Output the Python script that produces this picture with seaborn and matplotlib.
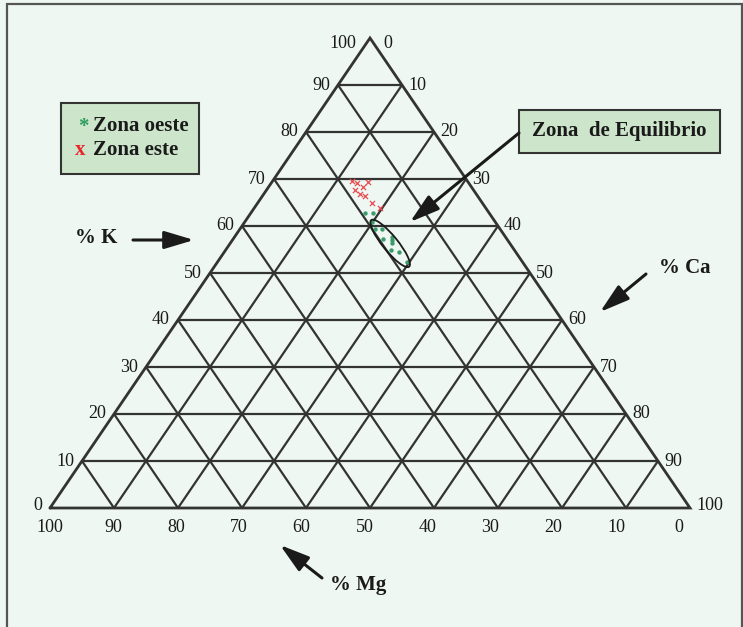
import numpy as np
import pandas as pd
import matplotlib
matplotlib.use("Agg")
import matplotlib.pyplot as plt
import seaborn as sns
from matplotlib.patches import Ellipse, FancyArrowPatch, Rectangle

# ---------------- data (ternary percentages) ----------------
ticks = [0, 10, 20, 30, 40, 50, 60, 70, 80, 90, 100]
k_tick_labels = [str(t) for t in ticks]          # left side (% K)
ca_tick_labels = [str(t) for t in ticks]         # right side (% Ca)
mg_tick_labels = [str(t) for t in ticks]         # bottom (% Mg)

# Zona este (red x)
este_K = [69.6, 69.2, 68.4, 69.3, 67.7, 66.8, 66.4, 65.0, 63.8]
este_Ca = [12.4, 13.3, 14.7, 15.1, 13.8, 15.0, 16.0, 17.8, 19.6]

# Zona oeste (green)
oeste_K = [62.7, 62.8, 60.9, 59.3, 59.3, 57.2, 57.6, 57.0, 56.4, 55.0, 54.4, 52.3]
oeste_Ca = [17.9, 19.0, 19.9, 21.2, 22.3, 23.5, 24.6, 25.0, 25.3, 25.8, 27.4, 29.6]

# Equilibrium zone (ellipse centre in ternary %)
equil_K, equil_Ca = 56.3, 25.0

# ---------------- layout ----------------
LEFT_X, BASE_W, BASE_Y, TRI_H = 50.0, 640.0, 508.0, 470.0
LINE_C = "#333333"
BG = "#eef7f2"
BOX_C = "#cde6cb"
SERIF = ["Liberation Serif", "DejaVu Serif"]


def tern(K, Ca):
    K = np.asarray(K, dtype=float)
    Ca = np.asarray(Ca, dtype=float)
    x = LEFT_X + (Ca + K / 2.0) / 100.0 * BASE_W
    y = BASE_Y - K / 100.0 * TRI_H
    return x, y


sns.set_style("white")
plt.rcParams["font.family"] = SERIF

fig = plt.figure(figsize=(7.43, 6.27), dpi=100, facecolor=BG)
ax = fig.add_axes([0, 0, 1, 1])
ax.set_facecolor(BG)
ax.set_xlim(0, 743)
ax.set_ylim(627, 0)
ax.axis("off")

# outer frame
ax.plot([7, 7, 742, 742], [627, 4, 4, 627], color="#555555", lw=1.6, solid_joinstyle="miter")

# ---------------- grid ----------------
for t in ticks[1:-1]:
    # constant K (horizontal)
    x, y = tern([t, t], [0, 100 - t])
    ax.plot(x, y, color=LINE_C, lw=1.6)
    # constant Ca (parallel to left side): bottom -> right side
    x, y = tern([0, 100 - t], [t, t])
    ax.plot(x, y, color=LINE_C, lw=1.6)
    # constant Mg (parallel to right side): bottom -> left side
    x, y = tern([0, 100 - t], [100 - t, 0])
    ax.plot(x, y, color=LINE_C, lw=1.6)

# outline
x, y = tern([0, 0, 100, 0], [0, 100, 0, 0])
ax.plot(x, y, color=LINE_C, lw=2.0, solid_joinstyle="miter")

# ---------------- tick labels ----------------
fs = 13
for t, lab in zip(ticks, k_tick_labels):
    x, y = tern(t, 0)
    dy = 6 if t == 100 else (-3 if t == 0 else 0)
    dx = -14 if t == 100 else -8
    ax.text(x + dx, y + dy, lab, ha="right", va="center", fontsize=fs, color="#1a1a1a")
for t, lab in zip(ticks, ca_tick_labels):
    x, y = tern(100 - t, t)
    dy = 6 if t == 0 else (-3 if t == 100 else 0)
    dx = 13 if t == 0 else 6
    ax.text(x + dx, y + dy, lab, ha="left", va="center", fontsize=fs, color="#1a1a1a")
for t, lab in zip(ticks, mg_tick_labels):
    x = LEFT_X + (100 - t) / 100.0 * BASE_W * 0.983
    ax.text(x, BASE_Y + 19, lab, ha="center", va="center", fontsize=fs, color="#1a1a1a")

# ---------------- data points ----------------
ex, ey = tern(este_K, este_Ca)
ox, oy = tern(oeste_K, oeste_Ca)
df_este = pd.DataFrame({"x": ex, "y": ey})
df_oeste = pd.DataFrame({"x": ox, "y": oy})
sns.scatterplot(data=df_este, x="x", y="y", ax=ax, marker="x", color="#e84a4f",
                s=14, linewidth=0.9, legend=False, zorder=5)
sns.scatterplot(data=df_oeste, x="x", y="y", ax=ax, marker="o", color="#3a9c68",
                s=10, linewidth=0, legend=False, zorder=5)
ax.set_xlim(0, 743)
ax.set_ylim(627, 0)
ax.set_xlabel("")
ax.set_ylabel("")

# equilibrium ellipse
cx, cy = tern(equil_K, equil_Ca)
ax.add_patch(Ellipse((float(cx), float(cy)), width=60, height=15, angle=50.9,
                     facecolor="none", edgecolor="#1a1a1a", lw=1.3, zorder=6))

# ---------------- legend box ----------------
ax.add_patch(Rectangle((61, 103), 138, 71, facecolor=BOX_C, edgecolor="#333333", lw=1.5, zorder=4))
ax.text(78, 127, "*", ha="left", va="center", fontsize=15, fontweight="bold", color="#2e9a5e", zorder=7)
ax.text(93, 126, "Zona oeste", ha="left", va="center", fontsize=15, fontweight="bold", color="#1a1a1a", zorder=7)
ax.text(75, 150, "x", ha="left", va="center", fontsize=15, fontweight="bold", color="#e8262b", zorder=7)
ax.text(93, 150, "Zona este", ha="left", va="center", fontsize=15, fontweight="bold", color="#1a1a1a", zorder=7)

# ---------------- Zona de Equilibrio box ----------------
ax.add_patch(Rectangle((519, 110), 201, 43, facecolor=BOX_C, edgecolor="#333333", lw=1.5, zorder=4))
ax.text(619.5, 131, "Zona  de Equilibrio", ha="center", va="center", fontsize=15,
        fontweight="bold", color="#1a1a1a", zorder=7)


def arrow(p0, p1):
    ax.add_patch(FancyArrowPatch(p0, p1, arrowstyle="-|>,head_length=1.0,head_width=0.3",
                                 mutation_scale=18, lw=2.2, color="#1a1a1a",
                                 shrinkA=0, shrinkB=0, zorder=8))


arrow((519, 133), (410, 222))

# axis titles
ax.text(75, 238, "% K", ha="left", va="center", fontsize=15, fontweight="bold", color="#1a1a1a")
arrow((133, 240), (194, 240))
ax.text(659, 268, "% Ca", ha="left", va="center", fontsize=15, fontweight="bold", color="#1a1a1a")
arrow((646, 274), (600, 312))
ax.text(330, 585, "% Mg", ha="left", va="center", fontsize=15, fontweight="bold", color="#1a1a1a")
arrow((322, 578), (280, 545))

fig.savefig("out.png", dpi=100, facecolor=BG)
